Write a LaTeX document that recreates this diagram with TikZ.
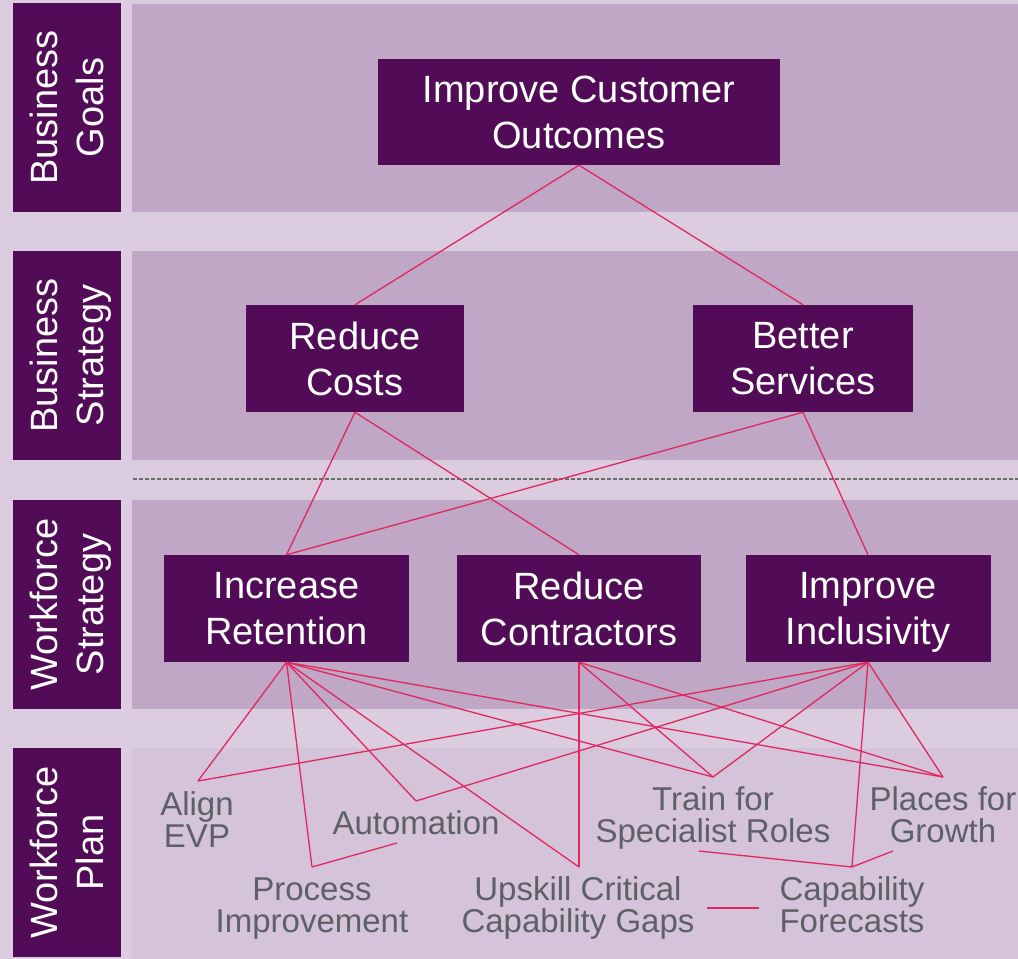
\documentclass[tikz,border=0pt]{standalone}
\usepackage{fontspec}
\setmainfont{Liberation Sans}
\definecolor{bgc}{HTML}{DBCCDF}
\definecolor{panelc}{HTML}{BFA7C5}
\definecolor{planc}{HTML}{D5C4D9}
\definecolor{darkp}{HTML}{520C57}
\definecolor{linkc}{HTML}{E0285E}
\definecolor{plantext}{HTML}{5E6068}
\definecolor{dashc}{HTML}{6A6A6A}
\begin{document}
\begin{tikzpicture}[x=1pt,y=-1pt,
  box/.style={fill=darkp, text=white, inner sep=0pt, align=center,
    font=\fontsize{38}{46}\selectfont, text depth=0pt},
  lab/.style={fill=darkp, text=white, inner sep=0pt, align=center, rotate=90,
    font=\fontsize{38}{46}\selectfont, text depth=0pt,
    minimum width=209pt, minimum height=108pt},
  plan/.style={text=plantext, inner sep=0pt, align=center,
    font=\fontsize{33}{32}\selectfont, text depth=0pt},
  link/.style={draw=linkc, line width=1.3pt}
]
\useasboundingbox (0,0) rectangle (1018,959);
\fill[bgc] (0,0) rectangle (1018,959);
% panels
\fill[panelc] (132,4) rectangle (1018,212);
\fill[panelc] (132,251) rectangle (1018,460);
\fill[panelc] (132,500) rectangle (1018,709);
\fill[planc] (132,748) rectangle (1018,959);
% dashed separator
\draw[dashc, line width=1.4pt, dash pattern=on 4pt off 2pt] (133,479) -- (1018,479);
% row labels
\node[lab] (l1) at (67,107.5) {Business\\Goals};
\node[lab] (l2) at (67,355.5) {Business\\Strategy};
\node[lab] (l3) at (67,604.5) {Workforce\\Strategy};
\node[lab] (l4) at (67,852.5) {Workforce\\Plan};
% boxes
\node[box, minimum width=402pt, minimum height=106pt] (ico) at (579,112) {Improve Customer\\Outcomes};
\node[box, minimum width=218pt, minimum height=107pt] (rc) at (355,358.5) {Reduce\\Costs};
\node[box, minimum width=220pt, minimum height=107pt] (bs) at (803,358.5) {Better\\Services};
\node[box, minimum width=245pt, minimum height=107pt] (ir) at (286.5,608.5) {Increase\\Retention};
\node[box, minimum width=244pt, minimum height=107pt] (rcon) at (579,608.5) {Reduce\\Contractors};
\node[box, minimum width=245pt, minimum height=107pt] (ii) at (868,608.5) {Improve\\Inclusivity};
% plan texts
\node[plan] (align) at (197,819.5) {Align\\EVP};
\node[plan] (auto) at (416,823) {Automation};
\node[plan] (proc) at (312,905) {Process\\Improvement};
\node[plan] (up) at (578,905) {Upskill Critical\\Capability Gaps};
\node[plan] (cap) at (852,905) {Capability\\Forecasts};
\node[plan] (train) at (713,814.5) {Train for\\Specialist Roles};
\node[plan] (places) at (943,814.5) {Places for\\Growth};
% connection points
\coordinate (pAlign) at (198,781);
\coordinate (pProc) at (312,867);
\coordinate (pAuto) at (416,801);
\coordinate (pUp) at (579,867);
\coordinate (pTrain) at (713,777);
\coordinate (pPlaces) at (943,777);
\coordinate (pCap) at (852,867);
\coordinate (pAutoB) at (397,843);
\coordinate (pTrainB) at (699,851);
\coordinate (pPlacesB) at (893,851);
\coordinate (pUpR) at (707,908);
\coordinate (pCapL) at (759,908);
% connectors
\draw[link] (ico.south) -- (rc.north);
\draw[link] (ico.south) -- (bs.north);
\draw[link] (rc.south) -- (ir.north);
\draw[link] (rc.south) -- (rcon.north);
\draw[link] (bs.south) -- (ir.north);
\draw[link] (bs.south) -- (ii.north);
\draw[link] (ir.south) -- (pAlign);
\draw[link] (ir.south) -- (pProc);
\draw[link] (ir.south) -- (pAuto);
\draw[link] (ir.south) -- (pUp);
\draw[link] (ir.south) -- (pTrain);
\draw[link] (ir.south) -- (pPlaces);
\draw[link] (rcon.south) -- (pUp);
\draw[link] (rcon.south) -- (pTrain);
\draw[link] (rcon.south) -- (pPlaces);
\draw[link] (ii.south) -- (pAlign);
\draw[link] (ii.south) -- (pAuto);
\draw[link] (ii.south) -- (pTrain);
\draw[link] (ii.south) -- (pPlaces);
\draw[link] (ii.south) -- (pCap);
\draw[link] (pProc) -- (pAutoB);
\draw[link] (pCap) -- (pTrainB);
\draw[link] (pCap) -- (pPlacesB);
\draw[link] (pUpR) -- (pCapL);
\end{tikzpicture}
\end{document}
